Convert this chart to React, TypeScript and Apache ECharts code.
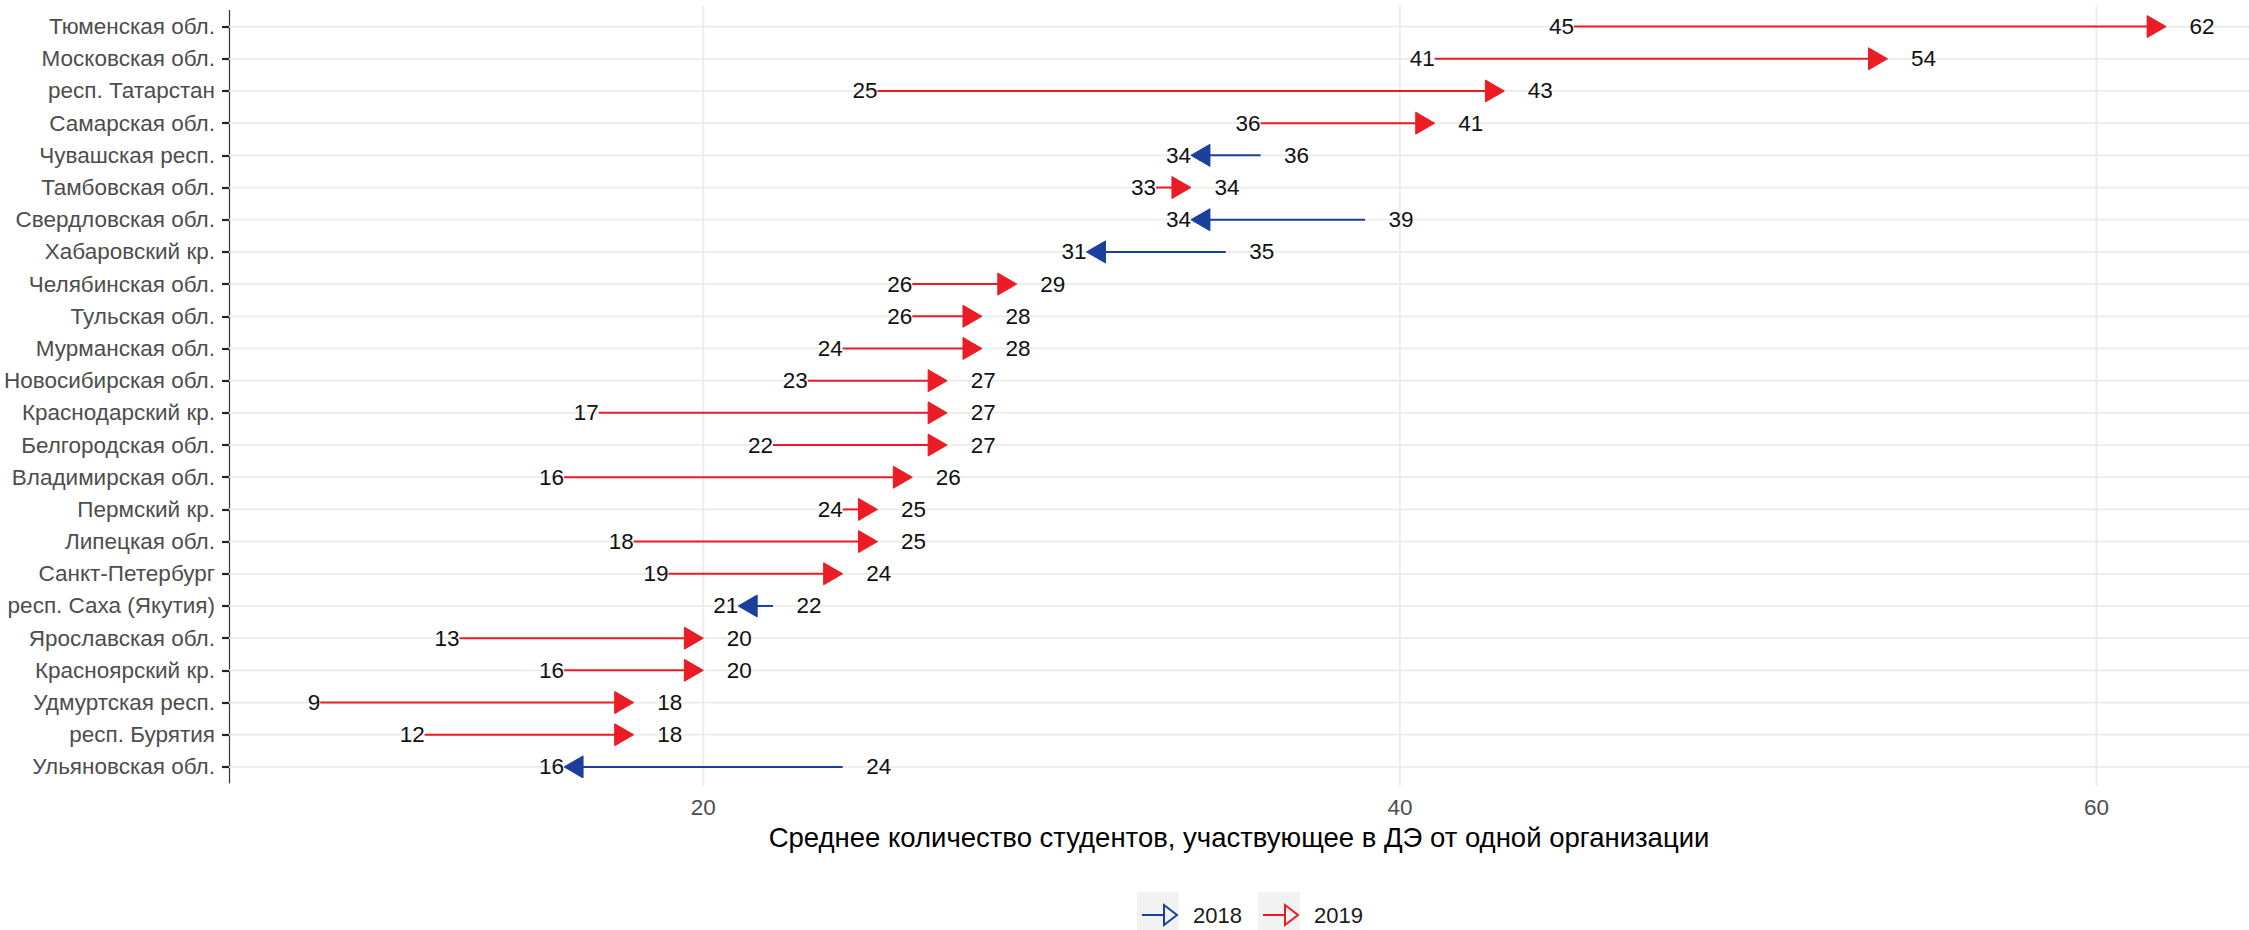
import React, { useEffect, useRef } from "react";
import * as echarts from "echarts";

const categories = [
  "Тюменская обл.",
  "Московская обл.",
  "респ. Татарстан",
  "Самарская обл.",
  "Чувашская респ.",
  "Тамбовская обл.",
  "Свердловская обл.",
  "Хабаровский кр.",
  "Челябинская обл.",
  "Тульская обл.",
  "Мурманская обл.",
  "Новосибирская обл.",
  "Краснодарский кр.",
  "Белгородская обл.",
  "Владимирская обл.",
  "Пермский кр.",
  "Липецкая обл.",
  "Санкт-Петербург",
  "респ. Саха (Якутия)",
  "Ярославская обл.",
  "Красноярский кр.",
  "Удмуртская респ.",
  "респ. Бурятия",
  "Ульяновская обл.",
];

const values2018 = [45, 41, 25, 36, 36, 33, 39, 35, 26, 26, 24, 23, 17, 22, 16, 24, 18, 19, 22, 13, 16, 9, 12, 24];
const values2019 = [62, 54, 43, 41, 34, 34, 34, 31, 29, 28, 28, 27, 27, 27, 26, 25, 25, 24, 21, 20, 20, 18, 18, 16];

const xTicks = [20, 40, 60];
const xMin = 6.38;
const xMax = 64.38;

const axisTitle = "Среднее количество студентов, участвующее в ДЭ от одной организации";
const legendLabels = ["2018", "2019"];

const RED = "#EC1C24";
const BLUE = "#1B3F9C";
const GRID = "#EBEBEB";
const FONT = '"Liberation Sans", Arial, sans-serif';

export default function App() {
  const ref = useRef<HTMLDivElement>(null);

  useEffect(() => {
    document.body.style.margin = "0";
    if (!ref.current) return;
    const chart = echarts.init(ref.current, undefined, { renderer: "svg" });

    const arrowData = categories.map((c, i) => [values2018[i], c, values2019[i]]);
    const gridHData = categories.map((c) => [xMin, c]);
    const gridVData = xTicks.map((v) => [v, categories[0]]);

    const legendItem = (x0: number, color: string, label: string) => {
      const cy = 915;
      return [
        { type: "rect", shape: { x: x0, y: 892, width: 42, height: 42 }, style: { fill: "#F2F2F2" } },
        { type: "line", shape: { x1: x0 + 5, y1: cy, x2: x0 + 28, y2: cy }, style: { stroke: color, lineWidth: 2 } },
        {
          type: "polygon",
          shape: { points: [[x0 + 27, cy - 10], [x0 + 40, cy], [x0 + 27, cy + 10]] },
          style: { fill: "none", stroke: color, lineWidth: 2 },
        },
        {
          type: "text",
          x: x0 + 56,
          y: cy,
          style: { text: label, fontSize: 22, fontFamily: FONT, fill: "#1a1a1a", verticalAlign: "middle" },
        },
      ];
    };

    const option: any = {
      animation: false,
      backgroundColor: "#ffffff",
      textStyle: { fontFamily: FONT },
      grid: { left: 229, right: 0, top: 10.5, bottom: 147, containLabel: false },
      xAxis: {
        type: "value",
        min: xMin,
        max: xMax,
        axisLine: { show: false },
        axisTick: { show: false },
        splitLine: { show: false },
        axisLabel: {
          customValues: xTicks,
          fontSize: 22.5,
          color: "#4D4D4D",
          margin: 13,
          fontFamily: FONT,
        },
        name: axisTitle,
        nameLocation: "middle",
        nameGap: 40,
        nameTextStyle: { fontSize: 27.5, color: "#000", fontFamily: FONT },
      },
      yAxis: {
        type: "category",
        data: categories,
        inverse: true,
        boundaryGap: true,
        axisLine: { show: true, lineStyle: { color: "#333", width: 1.2 } },
        axisTick: { show: true, alignWithLabel: true, length: 7, lineStyle: { color: "#222", width: 2.2 } },
        axisLabel: { fontSize: 22.5, color: "#4D4D4D", margin: 14, fontFamily: FONT },
        splitLine: { show: false },
      },
      graphic: [...legendItem(1137, BLUE, legendLabels[0]), ...legendItem(1258, RED, legendLabels[1])],
      series: [
        {
          type: "custom",
          name: "gridH",
          z: 1,
          silent: true,
          encode: { x: 0, y: 1 },
          data: gridHData,
          renderItem: (params: any, api: any) => {
            const p = api.coord([api.value(0), api.value(1)]);
            const cs = params.coordSys;
            return {
              type: "line",
              shape: { x1: cs.x, y1: p[1], x2: cs.x + cs.width, y2: p[1] },
              style: { stroke: GRID, lineWidth: 1.8 },
            };
          },
        },
        {
          type: "custom",
          name: "gridV",
          z: 1,
          silent: true,
          encode: { x: 0, y: 1 },
          data: gridVData,
          renderItem: (params: any, api: any) => {
            const p = api.coord([api.value(0), api.value(1)]);
            const cs = params.coordSys;
            return {
              type: "line",
              shape: { x1: p[0], y1: cs.y - 5, x2: p[0], y2: cs.y + cs.height + 3 },
              style: { stroke: GRID, lineWidth: 1.8 },
            };
          },
        },
        {
          type: "custom",
          name: "arrows",
          z: 5,
          encode: { x: [0, 2], y: 1 },
          data: arrowData,
          renderItem: (params: any, api: any) => {
            const s = api.value(0);
            const cat = api.value(1);
            const e = api.value(2);
            const p0 = api.coord([s, cat]);
            const p1 = api.coord([e, cat]);
            const y = p0[1];
            const dir = e >= s ? 1 : -1;
            const color = dir > 0 ? RED : BLUE;
            const L = 19;
            const W = 11;
            const base = p1[0] - dir * L;
            const minX = Math.min(p0[0], p1[0]);
            const maxX = Math.max(p0[0], p1[0]);
            const minV = Math.min(s, e);
            const maxV = Math.max(s, e);
            return {
              type: "group",
              children: [
                {
                  type: "line",
                  shape: { x1: p0[0], y1: y, x2: base + dir * 2, y2: y },
                  style: { stroke: color, lineWidth: 2 },
                },
                {
                  type: "polygon",
                  shape: { points: [[p1[0], y], [base, y - W], [base, y + W]] },
                  style: { fill: color, stroke: color, lineWidth: 1 },
                },
                {
                  type: "text",
                  style: {
                    text: String(minV),
                    x: minX,
                    y: y,
                    align: "right",
                    verticalAlign: "middle",
                    fontSize: 22.5,
                    fontFamily: FONT,
                    fill: "#111",
                  },
                },
                {
                  type: "text",
                  style: {
                    text: String(maxV),
                    x: maxX + 36,
                    y: y,
                    align: "center",
                    verticalAlign: "middle",
                    fontSize: 22.5,
                    fontFamily: FONT,
                    fill: "#111",
                  },
                },
              ],
            };
          },
        },
      ],
    };

    chart.setOption(option);
    return () => chart.dispose();
  }, []);

  return <div ref={ref} style={{ width: 2249, height: 930 }} />;
}
